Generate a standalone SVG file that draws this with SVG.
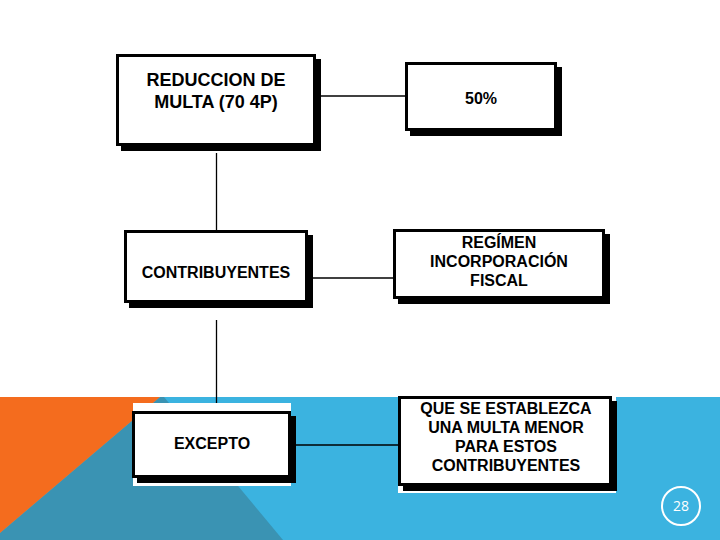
<svg xmlns="http://www.w3.org/2000/svg" width="720" height="540" viewBox="0 0 720 540">
  <style>
    .shadow { fill: #000; }
    .box { fill: #fff; stroke: #000; stroke-width: 3; }
    .backing { fill: #fff; }
    .label { font-family: "Liberation Sans", Arial, sans-serif; font-weight: bold; font-size: 16px; fill: #000; text-anchor: middle; }
    .conn { stroke: #000; stroke-width: 1.3; fill: none; }
    .pagenum { font-family: "Open Sans", "Liberation Sans", sans-serif; font-size: 14px; fill: #fff; text-anchor: middle; }
  </style>
  <rect x="0" y="0" width="720" height="540" fill="#fff"/>
  <g id="background">
    <rect x="0" y="397" width="720" height="143" fill="#3BB3E0"/>
    <polygon points="160,397 164,397 283,540 0,540 0,533" fill="#3A93B3"/>
    <polygon points="0,397 160,397 0,533" fill="#F46C1E"/>
  </g>
  <g id="connectors">
    <line class="conn" x1="321" y1="96" x2="405" y2="96"/>
    <line class="conn" x1="216.5" y1="153" x2="216.5" y2="230"/>
    <line class="conn" x1="313" y1="278" x2="393" y2="278"/>
    <line class="conn" x1="216.5" y1="320" x2="216.5" y2="411"/>
    <line class="conn" x1="295" y1="445" x2="398" y2="445"/>
  </g>
  <g id="node-reduccion">
    <rect class="shadow" x="121" y="59" width="200" height="92"/>
    <rect class="box" x="117.5" y="55.5" width="197" height="89"/>
    <text class="label" x="216" y="86" style="font-size:18px">REDUCCION DE</text>
    <text class="label" x="216" y="108" style="font-size:18px">MULTA (70 4P)</text>
  </g>
  <g id="node-50">
    <rect class="shadow" x="410" y="67" width="152" height="69"/>
    <rect class="box" x="406.5" y="63.5" width="149" height="66"/>
    <text class="label" x="481" y="104">50%</text>
  </g>
  <g id="node-contribuyentes">
    <rect class="shadow" x="129" y="235" width="184" height="73"/>
    <rect class="box" x="125.5" y="231.5" width="181" height="70"/>
    <text class="label" x="216" y="278">CONTRIBUYENTES</text>
  </g>
  <g id="node-regimen">
    <rect class="shadow" x="398" y="234" width="212" height="70"/>
    <rect class="box" x="394.5" y="230.5" width="209" height="67"/>
    <text class="label" x="499" y="248">REGÍMEN</text>
    <text class="label" x="499" y="267">INCORPORACIÓN</text>
    <text class="label" x="499" y="286">FISCAL</text>
  </g>
  <g id="node-excepto">
    <rect class="backing" x="133" y="403" width="158" height="83"/>
    <rect class="shadow" x="137" y="416" width="159" height="67"/>
    <rect class="box" x="133.5" y="412.5" width="156" height="64"/>
    <text class="label" x="212" y="449">EXCEPTO</text>
  </g>
  <g id="node-que">
    <rect class="backing" x="398" y="396" width="218" height="97"/>
    <rect class="shadow" x="403" y="401" width="214" height="90"/>
    <rect class="box" x="399.5" y="397.5" width="211" height="87"/>
    <text class="label" x="506" y="414">QUE SE ESTABLEZCA</text>
    <text class="label" x="506" y="433">UNA MULTA MENOR</text>
    <text class="label" x="506" y="452">PARA ESTOS</text>
    <text class="label" x="506" y="471">CONTRIBUYENTES</text>
  </g>
  <g id="page-number">
    <circle cx="681" cy="506" r="19" fill="none" stroke="#fff" stroke-width="2"/>
    <text class="pagenum" x="681" y="511">28</text>
  </g>
</svg>
